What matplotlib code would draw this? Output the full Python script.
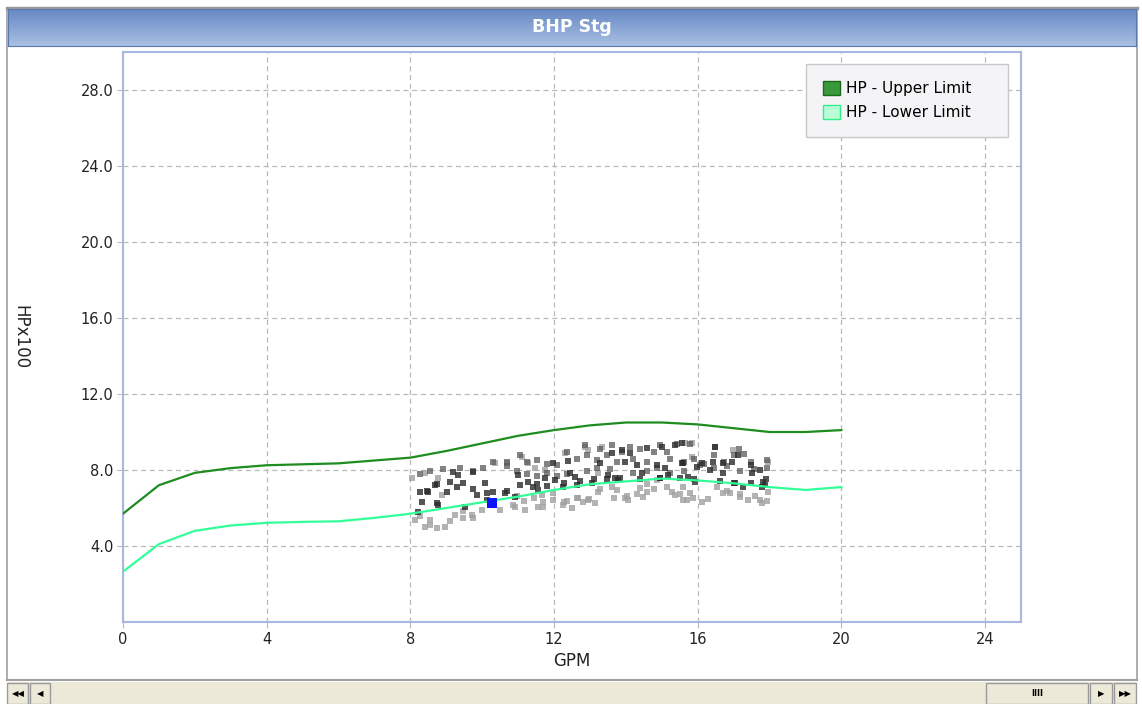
import numpy as np
import matplotlib
matplotlib.use("Agg")
import matplotlib.pyplot as plt
from matplotlib.patches import Rectangle

# Limit curves (HP x100) sampled at each GPM
gpm = [0, 1, 2, 3, 4, 5, 6, 7, 8, 9, 10, 11, 12, 13, 14, 15, 16, 17, 18, 19, 20]
hp_upper = [5.7, 7.2, 7.85, 8.1, 8.25, 8.3, 8.35, 8.5, 8.65, 9.0, 9.4, 9.8, 10.1, 10.35, 10.5,
            10.5, 10.4, 10.2, 10.0, 10.0, 10.1]
hp_lower = [2.65, 4.1, 4.8, 5.08, 5.22, 5.27, 5.3, 5.48, 5.7, 6.0, 6.3, 6.6, 6.95, 7.25, 7.4,
            7.55, 7.45, 7.3, 7.1, 6.95, 7.1]

# Recorded operating points, grouped by shade (dark = recent, light = oldest)
dark_x = [8.27, 8.33, 8.22, 8.5, 8.69, 8.75, 8.77, 9.03, 9.11, 9.19, 9.33, 9.47, 9.53, 9.75,
          9.86, 10.08, 10.14, 10.3, 10.64, 10.92, 11.06, 11.28, 11.42, 11.56, 11.75, 11.98,
          12.03, 12.26, 12.45, 12.59, 12.65, 12.4, 11.0, 13.06, 13.29, 13.5, 13.7, 13.62,
          13.9, 13.98, 14.12, 14.32, 14.46, 14.6, 14.87, 15.01, 15.1, 15.18, 15.38, 15.57,
          14.96, 13.79, 15.57, 15.6, 15.74, 15.93, 15.99, 16.13, 16.35, 16.43, 16.49, 16.69,
          16.71, 16.96, 17.05, 17.27, 17.13, 17.47, 17.52, 17.74, 17.83, 17.88, 17.8,
          8.45, 8.73, 9.29, 9.75, 10.12, 10.68, 11.52, 11.8, 12.27, 12.73, 13.1, 13.47, 13.84,
          14.4, 14.96, 15.52, 15.89, 16.63, 17.0, 17.47, 17.9]
dark_y = [6.83, 6.3, 5.78, 6.83, 7.2, 6.25, 6.15, 6.83, 7.35, 7.88, 7.72, 7.3, 6.04, 7.88,
          6.67, 7.3, 6.41, 6.83, 6.77, 6.57, 7.2, 7.35, 7.09, 6.93, 7.56, 8.35,
          7.46, 7.09, 7.83, 7.62, 7.2, 8.5, 7.72, 7.3, 8.35, 7.72, 7.56, 8.88,
          9.03, 8.4, 8.88, 8.25, 7.83, 9.14, 8.25, 9.19, 8.09, 7.72, 9.3, 8.35,
          7.56, 7.46, 9.4, 8.35, 7.62, 7.35, 8.14, 8.35, 7.98, 8.4, 9.19, 7.83,
          8.35, 8.4, 7.3, 7.09, 8.77, 8.25, 7.83, 7.98, 7.35, 7.2, 7.09,
          6.9, 7.25, 7.08, 6.99, 6.81, 6.9, 7.25, 7.16, 7.34, 7.42, 7.51, 7.51, 7.6,
          7.51, 7.6, 7.6, 7.51, 7.42, 7.34, 7.34, 7.51]

mid_x = [12.87, 13.28, 13.61, 13.89, 14.12, 14.4, 14.96, 15.14, 15.42, 15.79, 16.49, 17.14,
         17.28, 10.31, 10.68, 11.05, 11.24, 11.52, 11.8, 12.08, 12.36, 12.64, 12.91, 13.19,
         13.47, 13.75, 14.21, 14.59, 14.77, 15.24, 15.61, 15.89, 16.17, 16.44, 16.72, 17.0,
         17.47, 17.93, 8.26, 8.54, 8.91, 9.37, 9.74, 10.02, 10.68, 10.96, 11.24, 11.52, 11.8,
         12.08, 12.36, 12.92, 13.19, 13.56, 14.21, 14.58, 14.86, 15.24, 15.61, 16.07, 16.44,
         16.81, 17.18, 17.56, 17.93]
mid_y = [9.3, 9.12, 9.3, 8.95, 9.21, 9.12, 9.3, 8.95, 9.39, 9.39, 9.21, 9.12,
         8.86, 8.42, 8.42, 8.77, 8.42, 8.51, 8.33, 8.25, 8.95, 8.6, 8.77, 8.51,
         8.77, 8.42, 8.6, 8.42, 8.95, 8.6, 8.42, 8.6, 8.33, 8.77, 8.42, 8.77,
         8.42, 8.51, 7.77, 7.95, 8.04, 8.12, 7.95, 8.12, 8.21, 7.95, 7.77, 7.69, 7.86,
         7.69, 7.77, 7.95, 8.12, 8.04, 7.86, 7.95, 8.12, 7.86, 7.95, 8.25, 8.12,
         8.21, 7.95, 8.04, 8.12]

light_x = [8.05, 8.41, 8.13, 8.41, 8.55, 8.97, 9.25, 9.47, 9.72, 10.0, 8.77, 8.89, 10.36,
           10.7, 11.11, 11.28, 11.47, 11.75, 12.87, 12.31, 10.92, 11.2, 11.56, 11.98, 12.26,
           12.67, 12.81, 12.5, 11.67, 12.95, 13.23, 13.15, 13.62, 13.76, 13.98, 14.07, 14.4,
           14.6, 14.48, 14.87, 15.29, 15.38, 15.6, 12.95, 13.34, 15.65, 13.23, 15.85, 15.85,
           16.55, 16.69, 16.91, 17.19, 17.41, 17.74, 17.8, 17.97, 17.97, 16.99, 15.71, 15.88,
           16.13, 15.6, 10.96, 11.15, 11.43, 11.7, 11.98, 12.36, 12.64, 12.96, 13.29, 13.66,
           14.03, 14.31, 14.59, 14.77, 15.14, 15.51, 15.79, 16.3, 16.81, 17.18, 17.6, 17.93,
           8.26, 8.54, 8.73, 9.1, 9.47, 9.75, 10.49, 10.86, 11.7, 12.27]
light_y = [7.6, 7.83, 5.36, 5.0, 5.36, 5.0, 5.62, 5.46, 5.62, 5.88, 7.6, 6.67, 8.35,
           8.35, 8.67, 8.35, 8.09, 7.98, 9.19, 8.88, 6.04, 5.88, 6.04, 6.41, 6.15,
           6.51, 6.3, 5.99, 6.67, 6.41, 6.83, 6.25, 7.09, 6.93, 6.51, 6.41, 7.04,
           6.83, 6.57, 7.46, 6.83, 6.67, 6.41, 9.03, 9.19, 9.4, 7.83, 9.4, 8.67,
           7.09, 6.77, 6.77, 6.57, 6.41, 6.41, 6.25, 6.83, 8.4, 9.03, 6.41, 6.51,
           6.3, 7.09, 6.64, 6.38, 6.55, 6.29, 6.81, 6.38, 6.55, 6.46, 6.99, 6.55,
           6.64, 6.72, 7.25, 6.99, 7.08, 6.72, 6.81, 6.46, 6.9, 6.72, 6.64, 6.38,
           5.56, 5.12, 4.95, 5.3, 5.82, 5.47, 5.91, 6.16, 6.03, 6.29]

current_x = [10.28]
current_y = [6.25]

x_ticks = [0, 4, 8, 12, 16, 20, 24]
y_ticks = [4, 8, 12, 16, 20, 24, 28]

W, H = 1142, 704
fig = plt.figure(figsize=(W / 100, H / 100), dpi=100)
fig.patch.set_facecolor("white")


def fx(px):
    return px / W


def fy(py):
    return 1 - py / H


# outer frame
frame = fig.add_axes([0, 0, 1, 1])
frame.set_xlim(0, W)
frame.set_ylim(H, 0)
frame.axis("off")
frame.add_patch(Rectangle((7, 8), 1130, 672, facecolor="white", edgecolor="#a0a0a0", lw=1.2))
frame.plot([7, 1137], [8, 8], color="#9a9a9a", lw=2.5)

# title bar with vertical gradient
tb = fig.add_axes([fx(8), fy(46), fx(1128), 37 / H])
grad = np.linspace(0, 1, 64)[:, None]
c_top = np.array([0x66, 0x88, 0xc4]) / 255
c_bot = np.array([0xa9, 0xc0, 0xe2]) / 255
img = c_top[None, None, :] * (1 - grad[:, :, None]) + c_bot[None, None, :] * grad[:, :, None]
tb.imshow(np.repeat(img, 2, axis=1), aspect="auto", extent=[0, 1, 0, 1])
tb.set_xlim(0, 1)
tb.set_ylim(0, 1)
tb.set_xticks([])
tb.set_yticks([])
for s in tb.spines.values():
    s.set_color("#5a78b0")
tb.text(0.5, 0.5, "BHP Stg", color="white", fontsize=12.5, fontweight="bold",
        ha="center", va="center", family="DejaVu Sans")

# main plot
ax_l, ax_r, ax_t, ax_b = 123, 1021, 52, 622
ax = fig.add_axes([fx(ax_l), fy(ax_b), fx(ax_r) - fx(ax_l), (ax_b - ax_t) / H])
ax.set_xlim(0, 25)
ax.set_ylim(0, 30)
ax.set_xticks(x_ticks)
ax.set_yticks(y_ticks)
ax.set_xticklabels([str(t) for t in x_ticks], fontsize=10.5, color="#222222")
ax.set_yticklabels([f"{t:.1f}" for t in y_ticks], fontsize=10.5, color="#222222")
ax.tick_params(length=4, color="#bbbbbb", pad=3)
ax.grid(True, color="#b8b8b8", linestyle=(0, (4, 3)), lw=0.9)
for s in ax.spines.values():
    s.set_color("#a8b8e0")
    s.set_linewidth(1.5)
ax.set_xlabel("GPM", fontsize=12, color="#222222", labelpad=4)
ax.set_ylabel("HPx100", fontsize=12, color="#222222", rotation=270, va="center")
ax.yaxis.set_label_coords((20 - ax_l) / (ax_r - ax_l), 0.5)

ax.scatter(light_x, light_y, s=17, marker="s", color="#a0a0a0", alpha=0.8, lw=0, zorder=3)
ax.scatter(mid_x, mid_y, s=17, marker="s", color="#5a5a5a", alpha=0.75, lw=0, zorder=3)
ax.scatter(dark_x, dark_y, s=17, marker="s", color="#2a2a2a", alpha=0.8, lw=0, zorder=4)

ax.plot(gpm, hp_upper, color="#1e8c1e", lw=1.6, zorder=5)
ax.plot(gpm, hp_lower, color="#33ff99", lw=1.6, zorder=5)
ax.scatter(current_x, current_y, s=55, marker="s", color="#0a14ff", lw=0, zorder=6)

handles = [
    Rectangle((0, 0), 1, 1, facecolor="#3a9a3a", edgecolor="#1a6a1a"),
    Rectangle((0, 0), 1, 1, facecolor="#b8ffd8", edgecolor="#33ee88"),
]
lg_l, lg_r, lg_t, lg_b = 806, 1008, 64, 138
leg = ax.legend(handles, ["HP - Upper Limit", "HP - Lower Limit"], loc="upper left",
                bbox_to_anchor=((lg_l - ax_l) / (ax_r - ax_l), (ax_b - lg_b) / (ax_b - ax_t),
                                (lg_r - lg_l) / (ax_r - ax_l), (lg_b - lg_t) / (ax_b - ax_t)),
                mode="expand", fontsize=11, frameon=True, fancybox=False,
                handlelength=1.1, handleheight=1.1, handletextpad=0.4, borderpad=1.1,
                labelspacing=0.55, borderaxespad=0)
leg.get_frame().set_facecolor("#f4f4f6")
leg.get_frame().set_edgecolor("#c8c8c8")
leg.get_frame().set_alpha(1)

# horizontal scroll bar
frame.plot([7, 1137], [680, 680], color="#a0a0a0", lw=1.5)
frame.add_patch(Rectangle((7, 682), 1130, 22, facecolor="#ece9d8", edgecolor="none"))
for x0, w in [(7, 21), (30, 20), (986, 102), (1090, 22), (1114, 22)]:
    frame.add_patch(Rectangle((x0, 683), w, 21, facecolor="#ece9d8", edgecolor="#9a9a9a", lw=1))
frame.text(18, 694, "\u25c0\u25c0", fontsize=6, ha="center", va="center", color="black")
frame.text(40, 694, "\u25c0", fontsize=6, ha="center", va="center", color="black")
frame.text(1101, 694, "\u25b6", fontsize=6, ha="center", va="center", color="black")
frame.text(1125, 694, "\u25b6\u25b6", fontsize=6, ha="center", va="center", color="black")
frame.text(1037, 694, "IIII", fontsize=6, ha="center", va="center", color="black",
           fontweight="bold")

fig.savefig("out.png", dpi=100)
